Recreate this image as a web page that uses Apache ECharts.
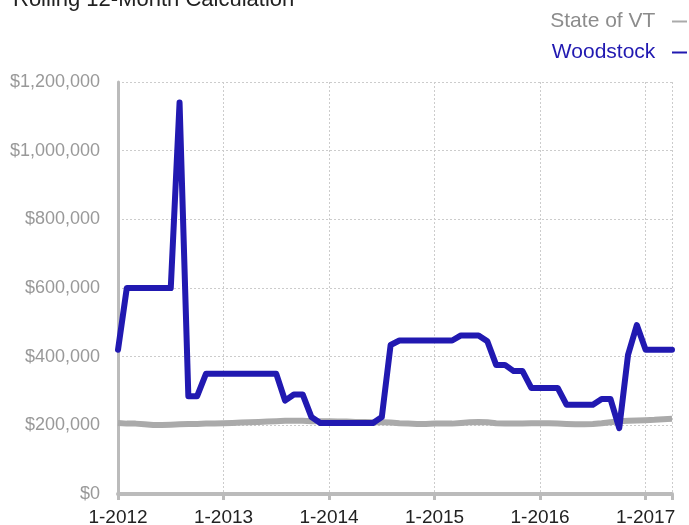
<!DOCTYPE html>
<html>
<head>
<meta charset="utf-8">
<script src="https://cdn.jsdelivr.net/npm/echarts@6/dist/echarts.min.js"></script>
<style>
  html, body { margin: 0; padding: 0; background: #fff; }
  #chart { width: 689px; height: 525px; }
</style>
</head>
<body>
<div id="chart"></div>
<script>
  // month index 0 = 1-2012 ... 63 = 4-2017
  const years = [2012, 2013, 2014, 2015, 2016, 2017];
  const months = [];
  years.forEach(function (y) {
    for (let m = 1; m <= 12; m++) months.push(m + '-' + y);
  });
  months.length = 64;

  const stateOfVT = [
    207000, 205000, 205000, 203000, 201000, 201000, 202000, 203000, 204000, 204000, 205000, 205000,
    206000, 207000, 208000, 209000, 210000, 211000, 212000, 213000, 213000, 213000, 212000, 212000,
    212000, 211000, 211000, 210000, 210000, 209000, 209000, 208000, 206000, 205000, 204000, 204000,
    205000, 205000, 205000, 207000, 209000, 210000, 209000, 206000, 205000, 205000, 205000, 206000,
    206000, 206000, 205000, 204000, 203000, 203000, 204000, 206000, 209000, 212000, 213000, 214000,
    215000, 216000, 218000, 219000
  ];
  const woodstock = [
    420000, 600000, 600000, 600000, 600000, 600000, 600000, 1140000, 285000, 285000, 350000, 350000,
    350000, 350000, 350000, 350000, 350000, 350000, 350000, 272000, 290000, 290000, 224000, 207000,
    207000, 207000, 207000, 207000, 207000, 207000, 224000, 434000, 447000, 447000, 447000, 447000,
    447000, 447000, 447000, 462000, 462000, 462000, 445000, 376000, 376000, 358000, 358000, 309000,
    309000, 309000, 309000, 260000, 260000, 260000, 260000, 277000, 277000, 192000, 405000, 492000,
    420000, 420000, 420000, 420000
  ];
  const yTicks = [0, 200000, 400000, 600000, 800000, 1000000, 1200000];

  const fontFamily = '"Liberation Sans", Arial, sans-serif';
  const toPairs = function (arr) { return arr.map(function (v, i) { return [i, v]; }); };

  const chart = echarts.init(document.getElementById('chart'));
  chart.setOption({
    animation: false,
    textStyle: { fontFamily: fontFamily },
    title: {
      text: 'Rolling 12-Month Calculation',
      left: 8,
      top: -16,
      textStyle: { color: '#222', fontSize: 22, fontWeight: 'normal', fontFamily: fontFamily }
    },
    legend: {
      orient: 'vertical',
      right: 2,
      top: 11,
      padding: 0,
      align: 'right',
      itemGap: 10,
      itemWidth: 15,
      itemHeight: 2,
      icon: 'rect',
      formatter: function (name) { return name + '  '; },
      textStyle: { fontSize: 21, fontFamily: fontFamily },
      data: [
        { name: 'State of VT', textStyle: { color: '#8c8c8c' } },
        { name: 'Woodstock', textStyle: { color: '#2119b1' } }
      ]
    },
    grid: { left: 118, right: 17, top: 82, bottom: 31, outerBoundsMode: 'none', containLabel: false },
    xAxis: {
      type: 'value',
      min: 0,
      max: months.length - 1,
      interval: 12,
      axisLine: { lineStyle: { color: '#bbb', width: 4 } },
      axisTick: { length: 6, lineStyle: { color: '#bbb', width: 3 } },
      axisLabel: {
        color: '#222',
        fontSize: 19,
        margin: 14,
        formatter: function (v) { return v % 12 === 0 ? months[v] : ''; }
      },
      splitLine: { show: true, lineStyle: { color: '#ccc', type: [2, 2] } }
    },
    yAxis: {
      type: 'value',
      min: yTicks[0],
      max: yTicks[yTicks.length - 1],
      interval: 200000,
      axisLine: { show: true, lineStyle: { color: '#bbb', width: 3 } },
      axisTick: { show: false },
      axisLabel: {
        color: '#999',
        fontSize: 18,
        margin: 18,
        formatter: function (v) { return '$' + v.toLocaleString('en-US'); }
      },
      splitLine: { show: true, lineStyle: { color: '#ccc', type: [2, 2] } }
    },
    series: [
      {
        name: 'State of VT',
        type: 'line',
        data: toPairs(stateOfVT),
        showSymbol: false,
        color: '#aaa',
        lineStyle: { color: '#aaa', width: 6, join: 'round' }
      },
      {
        name: 'Woodstock',
        type: 'line',
        data: toPairs(woodstock),
        showSymbol: false,
        color: '#2119b1',
        lineStyle: { color: '#2119b1', width: 6, join: 'round', cap: 'round' }
      }
    ]
  });
</script>
</body>
</html>
